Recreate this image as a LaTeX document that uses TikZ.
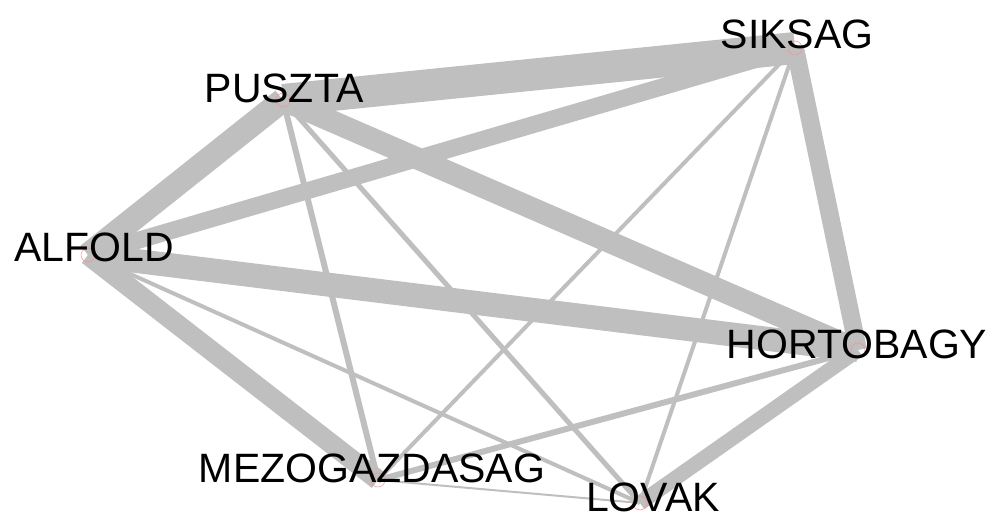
\documentclass[tikz,border=0pt]{standalone}
\usepackage{fontspec}
\setmainfont{Liberation Sans}
\begin{document}
\begin{tikzpicture}[x=1pt,y=-1pt,
  lbl/.style={font=\fontsize{41}{41}\selectfont, inner sep=0pt},
  vtx/.style={circle, draw=red!45!white, line width=0.5pt, minimum size=14pt, inner sep=0pt},
  tie/.style={draw=black!25, line width=#1}]
\useasboundingbox (0,0) rectangle (996,518);
% vertices
\coordinate (alfold) at (88,255);
\coordinate (puszta) at (283,100);
\coordinate (siksag) at (795,48);
\coordinate (hortobagy) at (858,350);
\coordinate (mezo) at (378,480);
\coordinate (lovak) at (640,503);
% ties
\draw[tie=32pt] (puszta) -- (siksag);
\draw[tie=24pt] (alfold) -- (puszta);
\draw[tie=22pt] (puszta) -- (hortobagy);
\draw[tie=24pt] (alfold) -- (hortobagy);
\draw[tie=17pt] (alfold) -- (siksag);
\draw[tie=20pt] (alfold) -- (mezo);
\draw[tie=18pt] (siksag) -- (hortobagy);
\draw[tie=15pt] (hortobagy) -- (lovak);
\draw[tie=6pt] (puszta) -- (mezo);
\draw[tie=5pt] (puszta) -- (lovak);
\draw[tie=4pt] (siksag) -- (mezo);
\draw[tie=4pt] (siksag) -- (lovak);
\draw[tie=4pt] (alfold) -- (lovak);
\draw[tie=6pt] (hortobagy) -- (mezo);
\draw[tie=2pt] (mezo) -- (lovak);
% circles
\node[vtx] (valfold) at (alfold) {};
\node[vtx] (vpuszta) at (puszta) {};
\node[vtx] (vsiksag) at (siksag) {};
\node[vtx] (vhortobagy) at (hortobagy) {};
\node[vtx] (vmezo) at (mezo) {};
\node[vtx] (vlovak) at (lovak) {};
% labels
\node[lbl] (lalfold) at (94,247) {ALFOLD};
\node[lbl] (lpuszta) at (284,88) {PUSZTA};
\node[lbl] (lsiksag) at (797,34) {SIKSAG};
\node[lbl] (lhortobagy) at (857,344) {HORTOBAGY};
\node[lbl] (lmezo) at (372,468) {MEZOGAZDASAG};
\node[lbl] (llovak) at (653,497) {LOVAK};
\end{tikzpicture}
\end{document}
